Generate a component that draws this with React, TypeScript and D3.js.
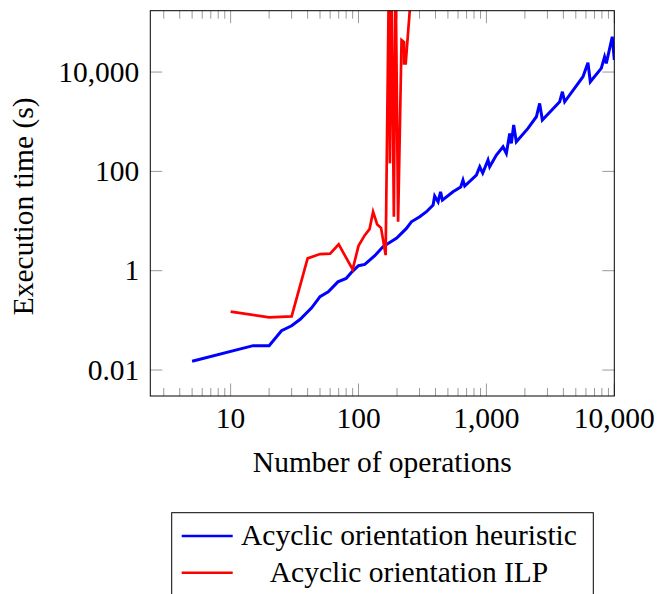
import * as d3 from 'd3';
import { useEffect, useRef } from 'react';

// number of operations / execution time (s)
const heuristicOps = [5, 15, 20, 25, 30, 35, 43, 50, 58, 69, 80, 88, 100, 112, 134, 155, 199, 237, 259, 301, 340, 383, 394, 419, 438, 453, 548, 630, 656, 677, 835, 887, 936, 1029, 1061, 1197, 1349, 1432, 1521, 1567, 1634, 1714, 2113, 2459, 2608, 2738, 3741, 3927, 4093, 5690, 6223, 6494, 7907, 8393, 8660, 9640, 10000];
const heuristicTime = [0.015, 0.031, 0.031, 0.062, 0.078, 0.105, 0.179, 0.3, 0.376, 0.597, 0.7, 0.924, 1.26, 1.34, 2.0, 3.03, 4.54, 7.11, 9.66, 12.2, 15.4, 21.0, 31.8, 24.4, 38.8, 26.4, 38.8, 48.3, 66.8, 50.6, 84.2, 124, 92.4, 169, 124, 213, 313, 230, 582, 366, 857, 395, 735, 1259, 2342, 1079, 2523, 4013, 2523, 8045, 15400, 6375, 11870, 20300, 14970, 51400, 17500];

const ilpOps = [10, 20, 30, 40, 50, 60, 70, 90, 100, 112, 122, 130, 140, 150, 163, 173, 176, 181, 189, 195, 204, 217, 227, 227, 234, 265];
const ilpTime = [0.15, 0.115, 0.12, 1.77, 2.16, 2.2, 3.39, 1.06, 3.17, 5.2, 6.9, 15.4, 8.55, 7.3, 2.06, 1e6, 145, 1e6, 12.2, 1e6, 9.7, 44000, 40000, 15000, 15000, 1e6];

const xMajorTicks = [10, 100, 1000, 10000];
const yMajorTicks = [0.01, 1, 100, 10000];
const xDomain: [number, number] = [2.355, 10000];
const yDomain: [number, number] = [0.003, 172000];

const xLabel = 'Number of operations';
const yLabel = 'Execution time (s)';
const legendLabels = ['Acyclic orientation heuristic', 'Acyclic orientation ILP'];
const seriesColors = ['#0000ff', '#ff0000'];

const FONT = "'Liberation Serif', 'Times New Roman', serif";
const FONT_SIZE = 29.5;

export default function App() {
    const svgRef = useRef<SVGSVGElement | null>(null);

    useEffect(() => {
        if (!svgRef.current) return;

        const width = 657;
        const height = 594;
        const margin = { top: 10.7, right: 42.7, bottom: 198, left: 150.3 };

        const svg = d3.select(svgRef.current)
            .attr('width', width)
            .attr('height', height);
        svg.selectAll('*').remove();

        const x = d3.scaleLog().domain(xDomain).range([margin.left, width - margin.right]);
        const y = d3.scaleLog().domain(yDomain).range([height - margin.bottom, margin.top]);
        const [x0, x1] = x.range();
        const [y0, y1] = y.range();

        // clip for the data lines
        svg.append('defs').append('clipPath').attr('id', 'plot-clip')
            .append('rect')
            .attr('x', x0).attr('y', y1)
            .attr('width', x1 - x0).attr('height', y0 - y1);

        // minor ticks on x (2..9 per decade)
        const minorX: number[] = [];
        for (const d of [1, 10, 100, 1000]) {
            for (let k = 2; k <= 9; k++) {
                const v = k * d;
                if (v >= xDomain[0] && v <= xDomain[1]) minorX.push(v);
            }
        }

        const ticks = svg.append('g').attr('stroke', '#9a9a9a').attr('stroke-width', 1);
        minorX.forEach(v => {
            ticks.append('line').attr('x1', x(v)).attr('x2', x(v)).attr('y1', y0).attr('y2', y0 - 8);
            ticks.append('line').attr('x1', x(v)).attr('x2', x(v)).attr('y1', y1).attr('y2', y1 + 8);
        });
        xMajorTicks.forEach(v => {
            ticks.append('line').attr('x1', x(v)).attr('x2', x(v)).attr('y1', y0).attr('y2', y0 - 12.5);
            ticks.append('line').attr('x1', x(v)).attr('x2', x(v)).attr('y1', y1).attr('y2', y1 + 12.5);
        });
        yMajorTicks.forEach(v => {
            ticks.append('line').attr('y1', y(v)).attr('y2', y(v)).attr('x1', x0).attr('x2', x0 + 12);
            ticks.append('line').attr('y1', y(v)).attr('y2', y(v)).attr('x1', x1).attr('x2', x1 - 12);
        });

        // data lines
        const line = d3.line<[number, number]>()
            .x(d => x(d[0]))
            .y(d => y(d[1]));

        const plot = svg.append('g').attr('clip-path', 'url(#plot-clip)');
        plot.append('path')
            .datum(heuristicOps.map((v, i) => [v, heuristicTime[i]] as [number, number]))
            .attr('fill', 'none')
            .attr('stroke', seriesColors[0])
            .attr('stroke-width', 3)
            .attr('d', line);
        plot.append('path')
            .datum(ilpOps.map((v, i) => [v, ilpTime[i]] as [number, number]))
            .attr('fill', 'none')
            .attr('stroke', seriesColors[1])
            .attr('stroke-width', 2.7)
            .attr('d', line);

        // frame
        svg.append('rect')
            .attr('x', x0).attr('y', y1)
            .attr('width', x1 - x0).attr('height', y0 - y1)
            .attr('fill', 'none')
            .attr('stroke', '#000')
            .attr('stroke-width', 1);

        const fmt = d3.format(',');

        // tick labels
        svg.append('g').selectAll('text')
            .data(xMajorTicks)
            .join('text')
            .attr('x', d => x(d))
            .attr('y', y0 + 31.5)
            .attr('text-anchor', 'middle')
            .attr('font-family', FONT)
            .attr('font-size', FONT_SIZE)
            .text(d => fmt(d));

        svg.append('g').selectAll('text')
            .data(yMajorTicks)
            .join('text')
            .attr('x', x0 - 11)
            .attr('y', d => y(d) + 9.5)
            .attr('text-anchor', 'end')
            .attr('font-family', FONT)
            .attr('font-size', FONT_SIZE)
            .text(d => (d < 1 ? String(d) : fmt(d)));

        // axis labels
        svg.append('text')
            .attr('x', (x0 + x1) / 2)
            .attr('y', 472)
            .attr('text-anchor', 'middle')
            .attr('font-family', FONT)
            .attr('font-size', FONT_SIZE)
            .text(xLabel);

        svg.append('text')
            .attr('transform', `translate(33,${(y0 + y1) / 2 + 3}) rotate(-90)`)
            .attr('text-anchor', 'middle')
            .attr('font-family', FONT)
            .attr('font-size', FONT_SIZE)
            .text(yLabel);

        // legend
        const legend = svg.append('g');
        legend.append('rect')
            .attr('x', 171.7).attr('y', 512.7)
            .attr('width', 421.6).attr('height', 100)
            .attr('fill', 'white')
            .attr('stroke', '#000')
            .attr('stroke-width', 1);
        legendLabels.forEach((label, i) => {
            const ly = 536 + i * 36.7;
            legend.append('line')
                .attr('x1', 181.7).attr('x2', 232.7)
                .attr('y1', ly).attr('y2', ly)
                .attr('stroke', seriesColors[i])
                .attr('stroke-width', 2.6);
            legend.append('text')
                .attr('x', 409)
                .attr('y', ly + 9.3)
                .attr('text-anchor', 'middle')
                .attr('font-family', FONT)
                .attr('font-size', FONT_SIZE)
                .text(label);
        });
    }, []);

    return (
        <svg ref={svgRef} style={{ position: 'absolute', left: 0, top: 0, display: 'block' }} />
    );
}
